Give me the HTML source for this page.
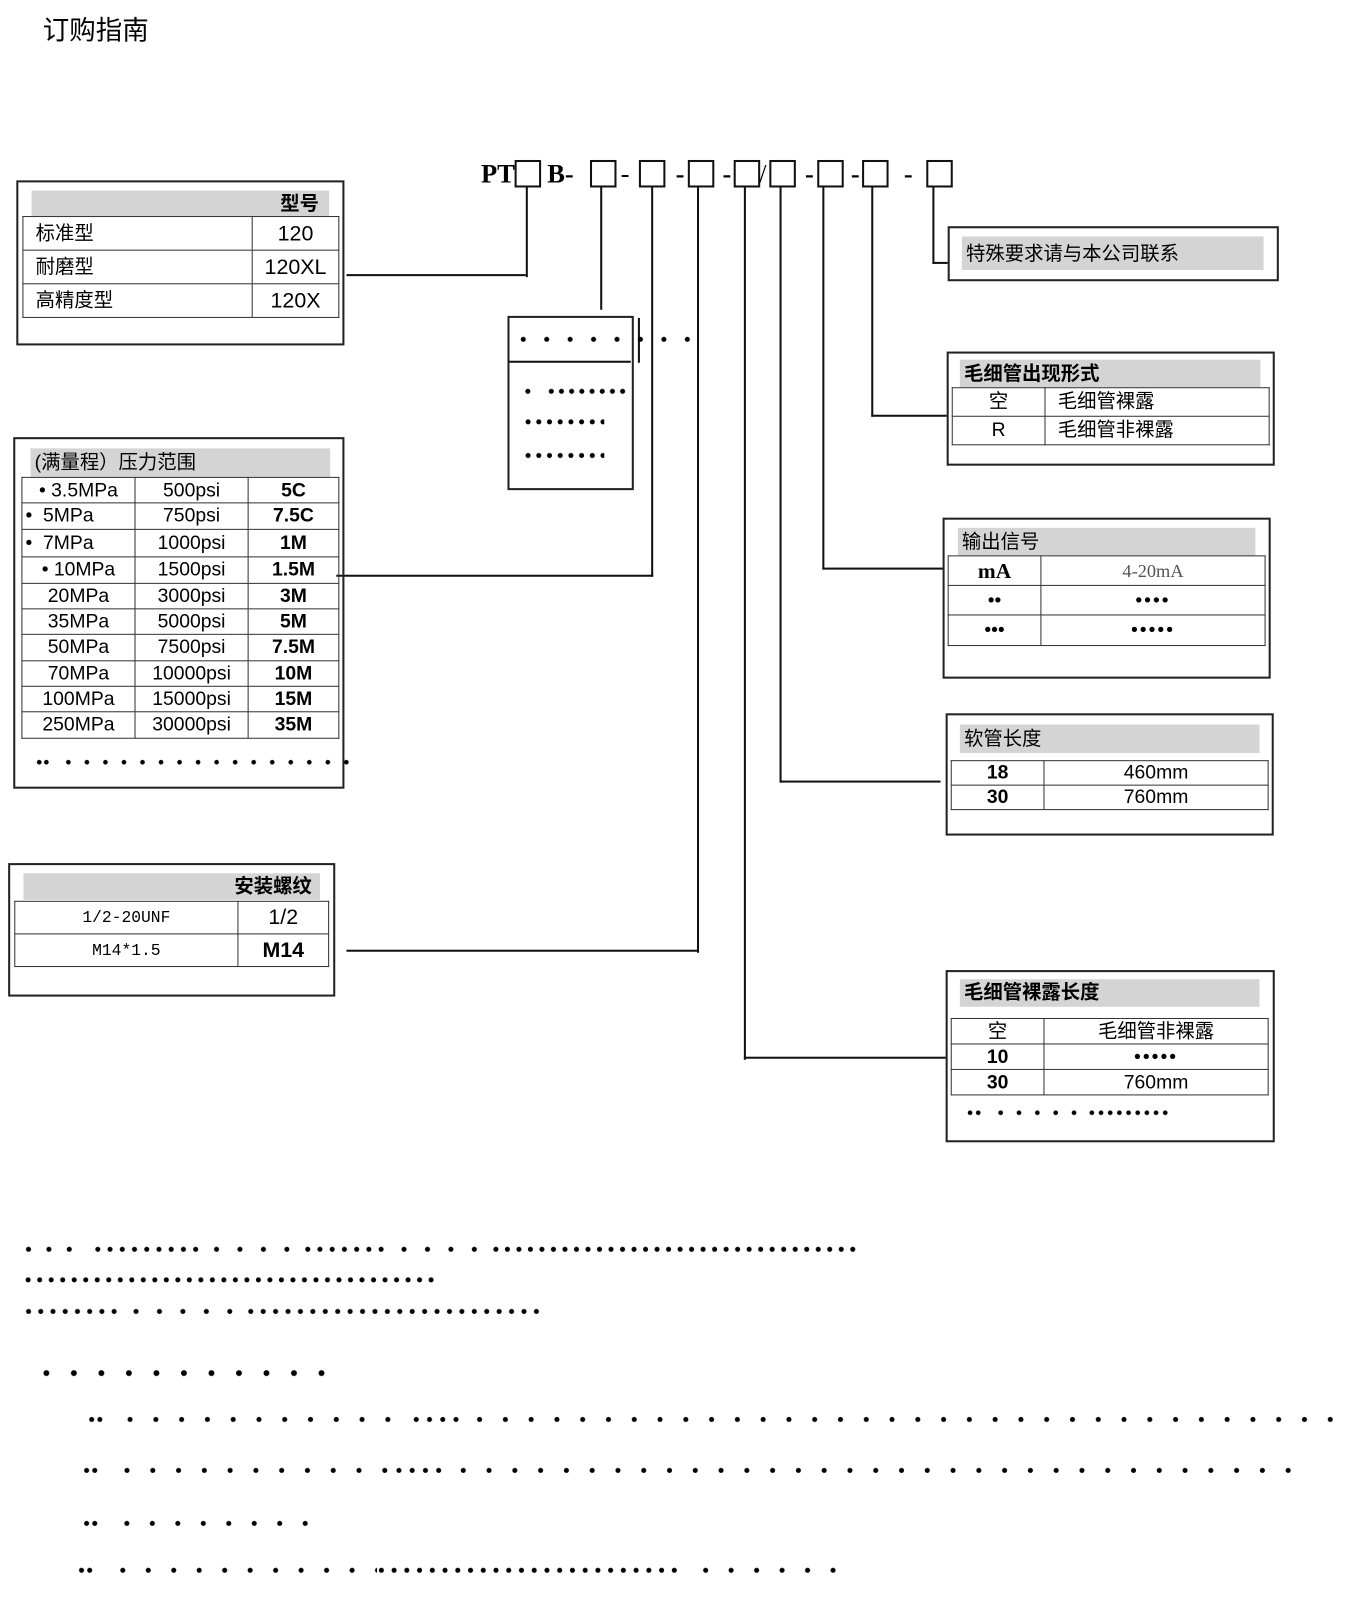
<!DOCTYPE html>
<html><head><meta charset="utf-8">
<style>
body{margin:0;width:1345px;height:1600px;background:#fff;position:relative;font-family:"Liberation Sans","Noto Sans CJK SC",sans-serif;color:#000;overflow:hidden}
#w{position:absolute;left:0;top:0;width:1320px;height:1570px;transform:scale(1.019);transform-origin:0 0}
.a{position:absolute}
.bx{position:absolute;border:2px solid #222;box-sizing:border-box}
.g{position:absolute;background:#d4d4d4;font-size:19px;line-height:27px;box-sizing:border-box;padding-left:4px}
.l{position:absolute;background:#111}
.sq{position:absolute;width:26px;height:27px;border:2px solid #111;box-sizing:border-box;top:157px}
table{position:absolute;border-collapse:collapse}
td{border:1.5px solid #333;padding:0;text-align:center;font-size:19px;line-height:1}
.d{position:absolute;background-repeat:repeat-x}
.s{font-family:"Liberation Serif","Noto Serif CJK SC",serif;font-weight:bold;font-size:26px;position:absolute;top:156px}
</style></head><body><div id="w">
<div class="a" style="left:42px;top:10px;font-size:26px">订购指南</div>

<div class="s" style="left:472px">PT</div>
<div class="sq" style="left:505px"></div>
<div class="s" style="left:537px">B-</div>
<div class="sq" style="left:579px"></div>
<div class="s" style="left:609px;font-weight:normal">-</div>
<div class="sq" style="left:627px"></div>
<div class="s" style="left:663px">-</div>
<div class="sq" style="left:675px"></div>
<div class="s" style="left:709px">-</div>
<div class="sq" style="left:720px"></div>
<div class="s" style="left:745px;font-weight:normal">/</div>
<div class="sq" style="left:755px"></div>
<div class="s" style="left:790px">-</div>
<div class="sq" style="left:802px"></div>
<div class="s" style="left:835px">-</div>
<div class="sq" style="left:846px"></div>
<div class="s" style="left:887px">-</div>
<div class="sq" style="left:909px"></div>

<div class="l" style="left:516px;top:184px;width:2px;height:88px"></div>
<div class="l" style="left:340px;top:269px;width:176px;height:2px"></div>
<div class="l" style="left:589px;top:184px;width:2px;height:120px"></div>
<div class="l" style="left:639px;top:184px;width:2px;height:382px"></div>
<div class="l" style="left:330px;top:564px;width:311px;height:2px"></div>
<div class="l" style="left:684px;top:184px;width:2px;height:751px"></div>
<div class="l" style="left:340px;top:932px;width:346px;height:2px"></div>
<div class="l" style="left:730px;top:184px;width:2px;height:856px"></div>
<div class="l" style="left:730px;top:1037px;width:198px;height:2px"></div>
<div class="l" style="left:765px;top:184px;width:2px;height:584px"></div>
<div class="l" style="left:765px;top:766px;width:158px;height:2px"></div>
<div class="l" style="left:807px;top:184px;width:2px;height:375px"></div>
<div class="l" style="left:807px;top:557px;width:118px;height:2px"></div>
<div class="l" style="left:855px;top:184px;width:2px;height:225px"></div>
<div class="l" style="left:855px;top:407px;width:74px;height:2px"></div>
<div class="l" style="left:915px;top:184px;width:2px;height:75px"></div>
<div class="l" style="left:915px;top:257px;width:15px;height:2px"></div>

<div class="bx" style="left:16px;top:177px;width:322px;height:162px"></div>
<div class="g" style="left:31px;top:187px;width:292px;height:25px;text-align:right;padding-right:10px;font-weight:bold;line-height:28px">型号</div>
<table style="left:22px;top:212px;width:311px">
<tr style="height:33px"><td style="width:212px;text-align:left;padding-left:12px">标准型</td><td style="font-size:21px">120</td></tr>
<tr style="height:33px"><td style="text-align:left;padding-left:12px">耐磨型</td><td style="font-size:21px">120XL</td></tr>
<tr style="height:33px"><td style="text-align:left;padding-left:12px">高精度型</td><td style="font-size:21px">120X</td></tr>
</table>

<div class="bx" style="left:498px;top:310px;width:124px;height:171px"></div>
<div class="l" style="left:499px;top:354px;width:120px;height:2px"></div>
<div class="l" style="left:626px;top:312px;width:2px;height:44px"></div>
<div class="d" style="left:502px;top:330px;width:184px;height:6px;background-image:radial-gradient(circle,#000 2.2px,transparent 2.7px);background-size:23px 6px"></div>
<div class="d" style="left:513px;top:381px;width:10px;height:6px;background-image:radial-gradient(circle,#000 2.2px,transparent 2.7px);background-size:10px 6px"></div>
<div class="d" style="left:536px;top:381px;width:80px;height:6px;background-image:radial-gradient(circle,#000 2.2px,transparent 2.7px);background-size:10px 6px"></div>
<div class="d" style="left:513px;top:411px;width:80px;height:6px;background-image:radial-gradient(circle,#000 2.2px,transparent 2.7px);background-size:10.5px 6px"></div>
<div class="d" style="left:513px;top:444px;width:80px;height:6px;background-image:radial-gradient(circle,#000 2.2px,transparent 2.7px);background-size:10.5px 6px"></div>

<div class="bx" style="left:13px;top:429px;width:325px;height:345px"></div>
<div class="g" style="left:30px;top:440px;width:294px;height:28px;line-height:30px">(满量程）压力范围</div>
<table style="left:21px;top:468px;width:312px">
<tr style="height:25px"><td style="width:110px">• 3.5MPa</td><td style="width:110px">500psi</td><td style="font-weight:bold">5C</td></tr>
<tr style="height:26px"><td style="text-align:left;padding-left:3px">•&nbsp; 5MPa</td><td>750psi</td><td style="font-weight:bold">7.5C</td></tr>
<tr style="height:27px"><td style="text-align:left;padding-left:3px">•&nbsp; 7MPa</td><td>1000psi</td><td style="font-weight:bold">1M</td></tr>
<tr style="height:26px"><td>• 10MPa</td><td>1500psi</td><td style="font-weight:bold">1.5M</td></tr>
<tr style="height:25px"><td>20MPa</td><td>3000psi</td><td style="font-weight:bold">3M</td></tr>
<tr style="height:25px"><td>35MPa</td><td>5000psi</td><td style="font-weight:bold">5M</td></tr>
<tr style="height:26px"><td>50MPa</td><td>7500psi</td><td style="font-weight:bold">7.5M</td></tr>
<tr style="height:25px"><td>70MPa</td><td>10000psi</td><td style="font-weight:bold">10M</td></tr>
<tr style="height:25px"><td>100MPa</td><td>15000psi</td><td style="font-weight:bold">15M</td></tr>
<tr style="height:26px"><td>250MPa</td><td>30000psi</td><td style="font-weight:bold">35M</td></tr>
</table>
<div class="d" style="left:35px;top:745px;width:14px;height:6px;background-image:radial-gradient(circle,#000 2px,transparent 2.5px);background-size:7px 6px"></div>
<div class="d" style="left:58px;top:745px;width:292px;height:6px;background-image:radial-gradient(circle,#000 2px,transparent 2.5px);background-size:18.2px 6px"></div>

<div class="bx" style="left:8px;top:847px;width:321px;height:131px"></div>
<div class="g" style="left:23px;top:857px;width:291px;height:26px;text-align:right;padding-right:8px;font-weight:bold;line-height:28px">安装螺纹</div>
<table style="left:14px;top:884px;width:309px">
<tr style="height:32px"><td style="width:218px;font-family:'Liberation Mono',monospace;font-size:16px">1/2-20UNF</td><td style="font-size:21px">1/2</td></tr>
<tr style="height:32px"><td style="font-family:'Liberation Mono',monospace;font-size:16px">M14*1.5</td><td style="font-size:21px;font-weight:bold">M14</td></tr>
</table>

<div class="bx" style="left:930px;top:222px;width:325px;height:54px"></div>
<div class="g" style="left:944px;top:232px;width:296px;height:33px;line-height:35px">特殊要求请与本公司联系</div>

<div class="bx" style="left:929px;top:345px;width:322px;height:112px"></div>
<div class="g" style="left:942px;top:353px;width:295px;height:27px;font-weight:bold;line-height:29px">毛细管出现形式</div>
<table style="left:934px;top:380px;width:312px">
<tr style="height:28px"><td style="width:90px">空</td><td style="text-align:left;padding-left:12px">毛细管裸露</td></tr>
<tr style="height:28px"><td>R</td><td style="text-align:left;padding-left:12px">毛细管非裸露</td></tr>
</table>

<div class="bx" style="left:925px;top:508px;width:322px;height:158px"></div>
<div class="g" style="left:940px;top:518px;width:292px;height:27px;line-height:29px">输出信号</div>
<table style="left:930px;top:545px;width:312px">
<tr style="height:29px"><td style="width:90px;font-family:'Liberation Serif',serif;font-weight:bold;font-size:21px">mA</td><td style="font-family:'Liberation Serif',serif;font-size:18px;color:#555">4-20mA</td></tr>
<tr style="height:29px"><td>••</td><td style="letter-spacing:2px">••••</td></tr>
<tr style="height:30px"><td>•••</td><td style="letter-spacing:2px">•••••</td></tr>
</table>

<div class="bx" style="left:928px;top:700px;width:322px;height:120px"></div>
<div class="g" style="left:942px;top:711px;width:294px;height:28px;line-height:30px">软管长度</div>
<table style="left:933px;top:746px;width:312px">
<tr style="height:24px"><td style="width:90px;font-weight:bold">18</td><td>460mm</td></tr>
<tr style="height:24px"><td style="font-weight:bold">30</td><td>760mm</td></tr>
</table>

<div class="bx" style="left:928px;top:952px;width:323px;height:169px"></div>
<div class="g" style="left:942px;top:961px;width:294px;height:27px;font-weight:bold;line-height:27px">毛细管裸露长度</div>
<table style="left:933px;top:999px;width:312px">
<tr style="height:25px"><td style="width:90px">空</td><td>毛细管非裸露</td></tr>
<tr style="height:25px"><td style="font-weight:bold">10</td><td style="letter-spacing:2px">•••••</td></tr>
<tr style="height:25px"><td style="font-weight:bold">30</td><td>760mm</td></tr>
</table>
<div class="d" style="left:948px;top:1089px;width:16px;height:6px;background-image:radial-gradient(circle,#000 2px,transparent 2.5px);background-size:8px 6px"></div>
<div class="d" style="left:973px;top:1089px;width:90px;height:6px;background-image:radial-gradient(circle,#000 2px,transparent 2.5px);background-size:18px 6px"></div>
<div class="d" style="left:1067px;top:1089px;width:82px;height:6px;background-image:radial-gradient(circle,#000 2px,transparent 2.5px);background-size:9px 6px"></div>

<div class="d" style="left:18px;top:1223px;width:60px;height:6px;background-image:radial-gradient(circle,#000 2.2px,transparent 2.7px);background-size:20px 6px"></div>
<div class="d" style="left:90px;top:1223px;width:108px;height:6px;background-image:radial-gradient(circle,#000 2.2px,transparent 2.7px);background-size:12px 6px"></div>
<div class="d" style="left:201px;top:1223px;width:92px;height:6px;background-image:radial-gradient(circle,#000 2.2px,transparent 2.7px);background-size:23px 6px"></div>
<div class="d" style="left:296px;top:1223px;width:84px;height:6px;background-image:radial-gradient(circle,#000 2.2px,transparent 2.7px);background-size:12px 6px"></div>
<div class="d" style="left:385px;top:1223px;width:92px;height:6px;background-image:radial-gradient(circle,#000 2.2px,transparent 2.7px);background-size:23px 6px"></div>
<div class="d" style="left:481px;top:1223px;width:362px;height:6px;background-image:radial-gradient(circle,#000 2.2px,transparent 2.7px);background-size:11.3px 6px"></div>
<div class="d" style="left:22px;top:1253px;width:406px;height:6px;background-image:radial-gradient(circle,#000 2.2px,transparent 2.7px);background-size:11.3px 6px"></div>
<div class="d" style="left:22px;top:1284px;width:96px;height:6px;background-image:radial-gradient(circle,#000 2.2px,transparent 2.7px);background-size:12px 6px"></div>
<div class="d" style="left:122px;top:1284px;width:115px;height:6px;background-image:radial-gradient(circle,#000 2.2px,transparent 2.7px);background-size:23px 6px"></div>
<div class="d" style="left:240px;top:1284px;width:292px;height:6px;background-image:radial-gradient(circle,#000 2.2px,transparent 2.7px);background-size:12.2px 6px"></div>
<div class="d" style="left:32px;top:1344px;width:297px;height:7px;background-image:radial-gradient(circle,#000 2.6px,transparent 3.1px);background-size:27px 7px"></div>

<div class="d" style="left:86px;top:1390px;width:16px;height:6px;background-image:radial-gradient(circle,#000 2.2px,transparent 2.7px);background-size:8px 6px"></div>
<div class="d" style="left:115px;top:1390px;width:279px;height:6px;background-image:radial-gradient(circle,#000 2.2px,transparent 2.7px);background-size:25.3px 6px"></div>
<div class="d" style="left:402px;top:1390px;width:52px;height:6px;background-image:radial-gradient(circle,#000 2.2px,transparent 2.7px);background-size:13px 6px"></div>
<div class="d" style="left:458px;top:1390px;width:862px;height:6px;background-image:radial-gradient(circle,#000 2.2px,transparent 2.7px);background-size:25.3px 6px"></div>

<div class="d" style="left:81px;top:1440px;width:16px;height:6px;background-image:radial-gradient(circle,#000 2.2px,transparent 2.7px);background-size:8px 6px"></div>
<div class="d" style="left:112px;top:1440px;width:270px;height:6px;background-image:radial-gradient(circle,#000 2.2px,transparent 2.7px);background-size:25.3px 6px"></div>
<div class="d" style="left:385px;top:1440px;width:52px;height:6px;background-image:radial-gradient(circle,#000 2.2px,transparent 2.7px);background-size:13px 6px"></div>
<div class="d" style="left:442px;top:1440px;width:835px;height:6px;background-image:radial-gradient(circle,#000 2.2px,transparent 2.7px);background-size:25.3px 6px"></div>

<div class="d" style="left:81px;top:1492px;width:16px;height:6px;background-image:radial-gradient(circle,#000 2.2px,transparent 2.7px);background-size:8px 6px"></div>
<div class="d" style="left:112px;top:1492px;width:200px;height:6px;background-image:radial-gradient(circle,#000 2.2px,transparent 2.7px);background-size:25px 6px"></div>

<div class="d" style="left:76px;top:1538px;width:16px;height:6px;background-image:radial-gradient(circle,#000 2.2px,transparent 2.7px);background-size:8px 6px"></div>
<div class="d" style="left:108px;top:1538px;width:262px;height:6px;background-image:radial-gradient(circle,#000 2.2px,transparent 2.7px);background-size:25px 6px"></div>
<div class="d" style="left:368px;top:1538px;width:300px;height:6px;background-image:radial-gradient(circle,#000 2.2px,transparent 2.7px);background-size:12.5px 6px"></div>
<div class="d" style="left:680px;top:1538px;width:150px;height:6px;background-image:radial-gradient(circle,#000 2.2px,transparent 2.7px);background-size:25px 6px"></div>
</div></body></html>
